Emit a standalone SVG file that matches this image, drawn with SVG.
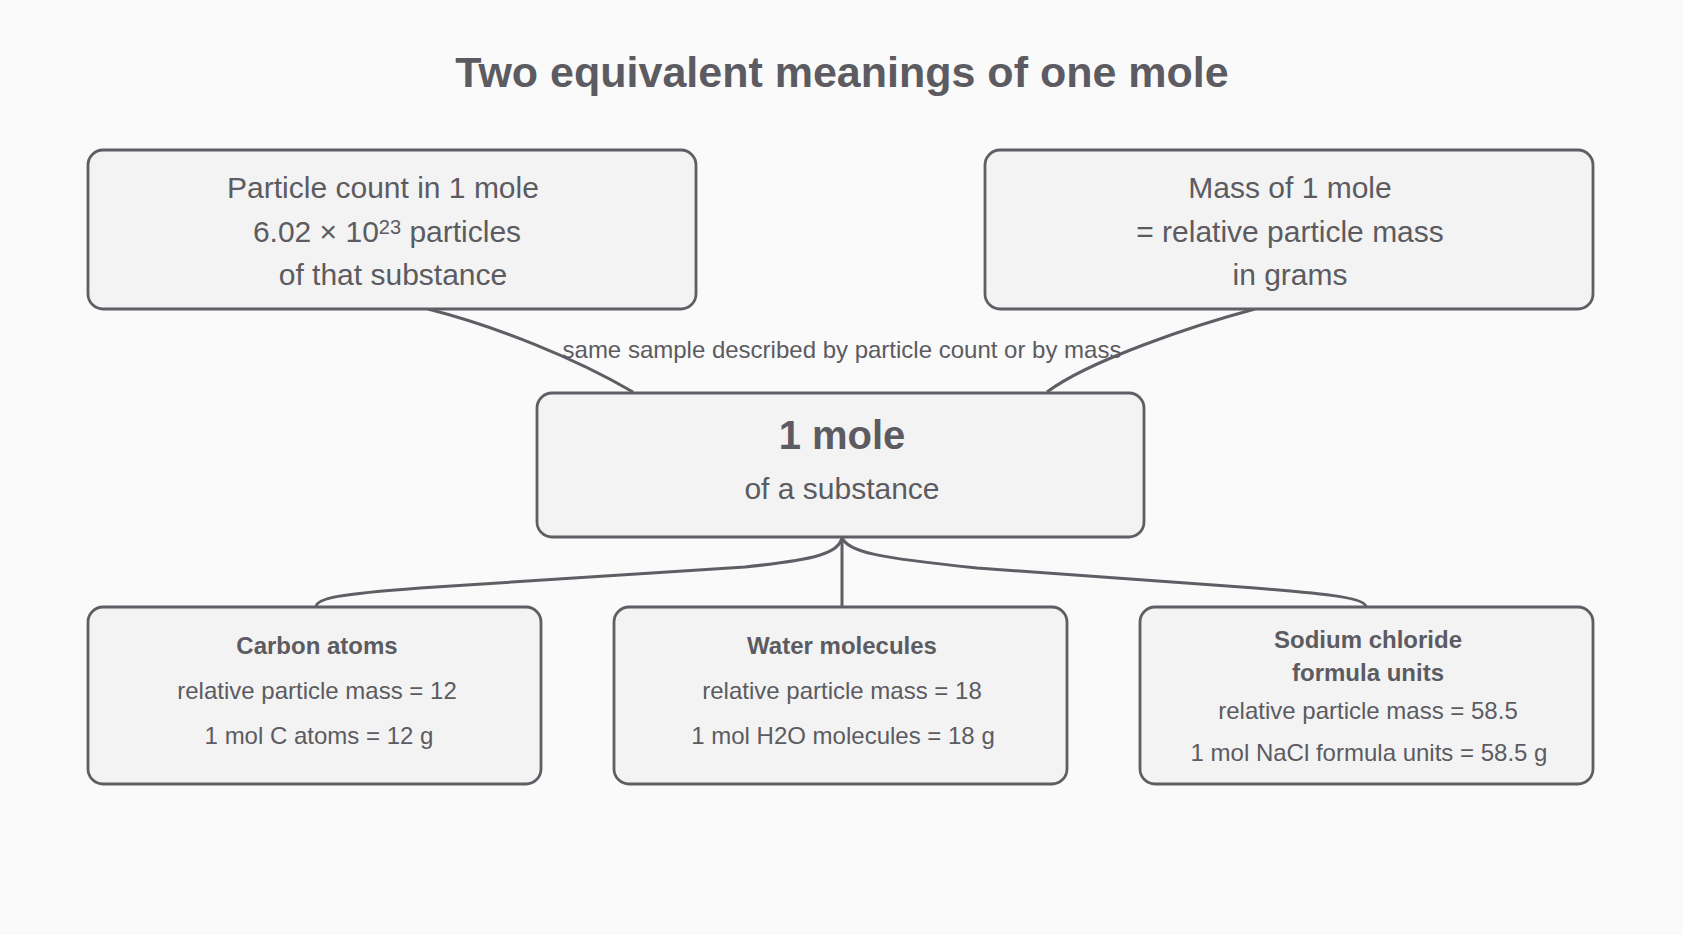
<svg xmlns="http://www.w3.org/2000/svg" width="1683" height="935" viewBox="0 0 1683 935">
<defs>
<style>
.bg{fill:#fafafa}
.node rect{fill:#f3f3f3;stroke:#5e5e64;stroke-width:2.8}
.edge{fill:none;stroke:#5e5e64;stroke-width:3}
text{font-family:"Liberation Sans",Arial,Helvetica,sans-serif;fill:#5b5b61;text-anchor:middle}
.title{font-size:43px;font-weight:bold}
.big{font-size:30px}
.head{font-size:40px;font-weight:bold}
.sm{font-size:24px}
.smb{font-size:24px;font-weight:bold}
.lbl{font-size:24px}
</style>
</defs>
<rect class="bg" x="0" y="0" width="1683" height="935"/>
<text class="title" x="842" y="87">Two equivalent meanings of one mole</text>

<g id="connectors">
<path class="edge" d="M428,309 C495,326 575,358 633,392"/>
<path class="edge" d="M1255,309 C1195,325 1090,360 1047,392"/>
<path class="edge" d="M842,537 C840,554 812,560 745,567 L420,588 C340,594 316,598 316,607"/>
<path class="edge" d="M842,537 L842,607"/>
<path class="edge" d="M842,537 C846,552 880,558 977,568 L1255,588 C1330,594 1366,598 1366,607"/>
<text class="lbl" x="842" y="358">same sample described by particle count or by mass</text>
</g>

<g id="node-count" class="node">
<rect x="88" y="150" width="608" height="159" rx="15"/>
<text class="big" x="383" y="198">Particle count in 1 mole</text>
<text class="big" x="387" y="242">6.02 × 10<tspan font-size="20" dy="-8">23</tspan><tspan dy="8"> particles</tspan></text>
<text class="big" x="393" y="285">of that substance</text>
</g>

<g id="node-mass" class="node">
<rect x="985" y="150" width="608" height="159" rx="15"/>
<text class="big" x="1290" y="198">Mass of 1 mole</text>
<text class="big" x="1290" y="242">= relative particle mass</text>
<text class="big" x="1290" y="285">in grams</text>
</g>

<g id="node-mole" class="node">
<rect x="537" y="393" width="607" height="144" rx="15"/>
<text class="head" x="842" y="449">1 mole</text>
<text class="big" x="842" y="499">of a substance</text>
</g>

<g id="node-carbon" class="node">
<rect x="88" y="607" width="453" height="177" rx="15"/>
<text class="smb" x="317" y="654">Carbon atoms</text>
<text class="sm" x="317" y="699">relative particle mass = 12</text>
<text class="sm" x="319" y="744">1 mol C atoms = 12 g</text>
</g>

<g id="node-water" class="node">
<rect x="614" y="607" width="453" height="177" rx="15"/>
<text class="smb" x="842" y="654">Water molecules</text>
<text class="sm" x="842" y="699">relative particle mass = 18</text>
<text class="sm" x="843" y="744">1 mol H2O molecules = 18 g</text>
</g>

<g id="node-nacl" class="node">
<rect x="1140" y="607" width="453" height="177" rx="15"/>
<text class="smb" x="1368" y="648">Sodium chloride</text>
<text class="smb" x="1368" y="681">formula units</text>
<text class="sm" x="1368" y="719">relative particle mass = 58.5</text>
<text class="sm" x="1369" y="761">1 mol NaCl formula units = 58.5 g</text>
</g>
</svg>
